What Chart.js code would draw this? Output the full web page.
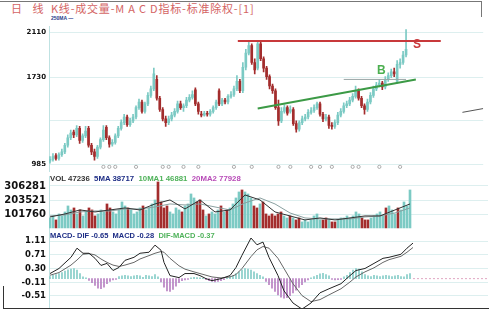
<!DOCTYPE html>
<html><head><meta charset="utf-8">
<script src="https://cdn.jsdelivr.net/npm/chart.js@4"></script>
<style>
body{margin:0;background:#fff;width:490px;height:312px;overflow:hidden;position:relative;font-family:"Liberation Sans",Arial,sans-serif}
.pane{position:absolute;left:0}
.t{position:absolute;white-space:nowrap}
.ln{position:absolute;background:#555}
</style></head><body>

<div class="t" style="left:11px;top:0;font:11px/16px 'Noto Sans CJK SC';letter-spacing:0.8px;color:#d46464">日&nbsp;&nbsp;&nbsp;线&nbsp;&nbsp;K线-成交量-M A C D指标-标准除权-[1]</div>
<div class="ln" style="left:0;top:1px;width:481px;height:1px;background:#777"></div>
<div class="ln" style="left:481px;top:1px;width:1px;height:16px;background:#777"></div>

<div class="pane" style="top:22px"><canvas id="price" width="488" height="154"></canvas></div>
<div class="pane" style="top:176px"><canvas id="vol" width="488" height="56"></canvas></div>
<div class="pane" style="top:232px"><canvas id="macd" width="488" height="76"></canvas></div>

<div class="t" style="left:51px;top:15px;font:bold 5px/6px 'Liberation Sans';color:#2a3a8a">250MA —</div>
<div class="t" style="left:50px;top:174px;font:bold 7.8px/9px 'Liberation Sans'">
  <span style="color:#333">VOL 47236</span>&nbsp;
  <span style="color:#1e2e86">5MA 38717</span>&nbsp;
  <span style="color:#4fb25a">10MA1 46881</span>&nbsp;
  <span style="color:#b84cb8">20MA2 77928</span>
</div>
<div class="t" style="left:50px;top:231px;font:bold 7.5px/9px 'Liberation Sans'">
  <span style="color:#1e2e86">MACD- DIF -0.65</span>&nbsp;
  <span style="color:#1e2e86">MACD -0.28</span>&nbsp;
  <span style="color:#4fb25a">DIF-MACD -0.37</span>
</div>
<div class="t" style="left:377px;top:63px;font:bold 12px/14px 'Liberation Sans';color:#4caf50">B</div>
<div class="t" style="left:413px;top:37px;font:bold 12px/14px 'Liberation Sans';color:#c8393b">S</div>

<div class="ln" style="left:3px;top:308px;width:486px;height:1px;background:#333"></div>
<div class="ln" style="left:3px;top:286px;width:1px;height:22px;background:#333"></div>

<script>
// daily K-line (index = trading day)
const opens = [1014,1030,1062,1038,1070,1094,1150,1214,1262,1238,
  1294,1190,1230,1294,1150,1094,1054,1134,1198,1302,
  1214,1158,1174,1230,1294,1342,1390,1326,1358,1390,
  1470,1518,1438,1502,1574,1630,1710,1550,1454,1374,
  1342,1374,1406,1438,1502,1470,1486,1534,1558,1622,
  1502,1414,1406,1422,1414,1438,1470,1614,1502,1534,
  1518,1566,1582,1630,1694,1614,1814,1934,1998,1854,
  1806,2014,1886,1806,1734,1654,1614,1470,1358,1438,
  1470,1438,1454,1334,1286,1342,1374,1390,1430,1446,
  1470,1502,1414,1374,1390,1318,1310,1342,1406,1438,
  1486,1502,1534,1566,1614,1550,1486,1454,1518,1574,
  1630,1662,1678,1646,1710,1742,1774,1694,1838,1854,
  1918];
const closes = [1030,1054,1038,1070,1094,1150,1214,1254,1238,1294,
  1190,1230,1270,1150,1094,1054,1134,1198,1278,1214,
  1158,1174,1230,1294,1342,1390,1326,1358,1390,1470,
  1518,1438,1502,1574,1630,1758,1550,1454,1374,1342,
  1374,1406,1438,1502,1470,1486,1534,1558,1582,1502,
  1438,1406,1422,1414,1438,1470,1518,1502,1534,1518,
  1566,1582,1630,1694,1614,1814,1934,1998,1854,1790,
  2014,1886,1806,1734,1654,1614,1470,1358,1438,1470,
  1422,1454,1334,1286,1342,1374,1390,1430,1446,1470,
  1502,1414,1374,1390,1318,1310,1342,1406,1438,1486,
  1502,1534,1566,1614,1550,1486,1454,1518,1574,1630,
  1662,1678,1646,1710,1742,1774,1758,1838,1854,1918,
  1966];
const highs = [1054,1078,1078,1086,1118,1166,1238,1278,1278,1318,
  1310,1246,1310,1310,1166,1118,1150,1214,1318,1318,
  1230,1198,1246,1310,1366,1414,1406,1382,1414,1486,
  1542,1534,1518,1598,1654,1806,1742,1566,1470,1398,
  1398,1430,1462,1526,1526,1502,1558,1582,1614,1638,
  1518,1438,1438,1438,1454,1486,1534,1630,1550,1550,
  1582,1606,1654,1742,1710,1854,1966,2030,2014,1886,
  2038,2038,1902,1822,1750,1670,1630,1534,1470,1494,
  1486,1486,1470,1358,1358,1398,1414,1454,1470,1494,
  1518,1518,1430,1414,1406,1342,1366,1430,1462,1510,
  1526,1558,1590,1654,1630,1566,1502,1542,1598,1654,
  1686,1710,1694,1734,1766,1798,1806,1870,1886,1950,
  2134];
const lows = [998,1014,1022,1022,1054,1078,1134,1198,1214,1222,
  1166,1174,1214,1134,1070,1022,1038,1118,1182,1198,
  1134,1142,1158,1214,1278,1326,1310,1310,1342,1374,
  1454,1422,1422,1486,1558,1614,1534,1438,1358,1310,
  1326,1358,1390,1422,1454,1438,1470,1518,1542,1486,
  1414,1390,1398,1398,1398,1422,1454,1486,1486,1502,
  1502,1550,1566,1614,1598,1598,1790,1918,1838,1758,
  1790,1870,1774,1710,1630,1590,1454,1318,1342,1422,
  1406,1422,1318,1262,1270,1326,1358,1374,1414,1430,
  1454,1398,1350,1358,1294,1286,1294,1326,1390,1422,
  1470,1486,1518,1550,1534,1470,1414,1438,1502,1558,
  1614,1646,1622,1630,1694,1726,1734,1678,1806,1838,
  1902];
const volumes = [73000,87600,58400,102200,87600,116800,160600,131400,146000,102200,
  131400,87600,116800,146000,131400,87600,102200,131400,116800,175200,
  146000,116800,102200,131400,189800,160600,146000,131400,102200,116800,
  146000,160600,131400,146000,175200,204400,335800,189800,146000,160600,
  116800,102200,146000,131400,116800,160600,175200,248200,219000,189800,
  204400,131400,87600,102200,116800,102200,131400,160600,116800,131400,
  146000,175200,219000,262800,277400,262800,248200,219000,160600,146000,
  175200,189800,102200,87600,102200,87600,102200,116800,87600,73000,
  87600,73000,58400,73000,43800,58400,43800,58400,87600,102200,
  58400,58400,73000,58400,43800,43800,58400,73000,73000,87600,
  73000,87600,116800,102200,73000,58400,58400,73000,87600,102200,
  116800,87600,146000,160600,131400,102200,146000,131400,189800,160600,
  277400];
// volume averages, sampled every 5 days
const maIdx = [0,5,10,15,20,25,30,35,40,45,50,55,60,65,70,75,80,85,90,95,100,105,110,115,120];
const vol5 = [80300,102200,131400,116800,131400,146000,131400,175200,204400,138700,204400,116800,131400,240900,204400,116800,87600,58400,73000,58400,73000,87600,87600,131400,175200];
const vol10 = [87600,94900,116800,124100,124100,138700,138700,153300,175200,167900,175200,153300,131400,182500,219000,175200,109500,73000,65700,65700,65700,80300,87600,109500,146000];
// MACD
const macdIdx = [0,3,7,9,11,13,15,17,19,21,23,25,28,30,33,35,37,38,40,43,45,48,50,52,54,57,60,62,64,67,69,71,73,76,78,81,84,87,90,93,97,100,102,105,108,111,113,117,119,121];
const dif = [0.15,0.30,0.63,0.90,0.75,0.75,0.60,0.39,0.45,0.24,0.33,0.54,0.63,0.75,0.78,0.99,0.84,0.48,0.09,0.03,0.15,0.15,0.09,0.00,-0.06,0.00,0.09,0.33,0.69,1.20,1.00,1.08,0.63,0.09,-0.36,-0.72,-0.90,-0.72,-0.42,-0.30,-0.15,0.09,0.24,0.30,0.45,0.60,0.63,0.72,0.90,1.05];
const dea = [0.10,0.18,0.40,0.55,0.72,0.74,0.70,0.58,0.48,0.40,0.36,0.40,0.48,0.58,0.68,0.75,0.80,0.78,0.60,0.38,0.28,0.20,0.15,0.10,0.05,0.02,0.05,0.12,0.30,0.65,0.85,0.95,0.90,0.60,0.30,-0.15,-0.50,-0.68,-0.62,-0.48,-0.30,-0.10,0.05,0.20,0.32,0.48,0.56,0.66,0.78,0.92];
const macdBars = [0.06,0.10,0.12,0.15,0.18,0.22,0.26,0.28,0.30,0.25,0.15,0.05,
  0.02,-0.05,-0.12,-0.20,-0.28,-0.30,-0.25,-0.15,-0.08,-0.04,-0.02,
  0.06,0.08,0.10,0.08,0.06,0.08,0.10,0.08,0.04,0.10,0.08,0.06,0.12,0.05,
  -0.10,-0.25,-0.36,-0.38,-0.32,-0.22,-0.12,-0.06,-0.04,-0.02,
  0.02,0.04,0.03,0.02,0.01,-0.03,-0.06,-0.08,-0.10,-0.08,-0.06,-0.03,
  0.02,0.05,0.08,0.15,0.20,0.26,0.30,0.28,0.25,0.20,0.15,0.10,0.05,
  -0.08,-0.18,-0.28,-0.38,-0.48,-0.55,-0.58,-0.56,-0.50,-0.42,-0.34,-0.26,-0.18,-0.10,-0.04,0.02,
  0.06,0.10,0.14,0.16,0.12,0.08,-0.02,-0.04,-0.03,-0.02,
  0.05,0.10,0.18,0.25,0.30,0.28,0.20,0.12,0.08,0.06,0.10,0.08,0.06,0.08,0.10,0.08,0.06,0.08,0.10,0.06,0.05,0.12,0.15];
// hand-drawn lines and signal markers
const resistance = [[63.3,2038],[131.7,2038]];
const trendLine = [[70,1462],[123.3,1710]];
const breakLine = [[99,1710],[120,1710]];
const sideLine = [[139,1430],[146,1462]];
const markerIdx = [18,20,22,29,38,40,45,50,62,68,77,81,88,91,95,102,104,111,118];
const markerLevel = 966;
const priceTicks = [985,1360,1730,2110];
const volTicks = [101760,203521,306281];
const macdTicks = [-0.51,-0.11,0.30,0.71,1.11];

const UP = '#7ccac4', DOWN = '#a32d2d';
const idx = opens.map((_, i) => i);
const candleCol = idx.map(i => closes[i] >= opens[i] ? UP : DOWN);
const pts = a => a.map(p => ({x:p[0], y:p[1]}));

function lineDs(data, color, width, dash){
  return {type:'line', data, borderColor:color, borderWidth:width, borderDash:dash||[], pointRadius:0, fill:false, tension:0, spanGaps:true};
}

function makeChart(id, datasets, ymin, ymax, ticks, size, fmt){
  return new Chart(document.getElementById(id), {
    type:'bar',
    data:{datasets},
    options:{
      responsive:false, animation:false, devicePixelRatio:1,
      layout:{padding:0},
      plugins:{legend:{display:false}, tooltip:{enabled:false}},
      scales:{
        x:{type:'linear', min:-0.33, max:146, display:false, offset:false},
        y:{min:ymin, max:ymax,
          afterFit(s){ s.width = 49; s.paddingTop = 0; s.paddingBottom = 0; },
          afterBuildTicks(s){ s.ticks = ticks.map(v => ({value:v})); },
          grid:{color:'#ddefef', drawTicks:false},
          border:{color:'#bfe2e2'},
          ticks:{color:'#111', padding:3, font:{family:'DejaVu Sans', weight:'bold', size, lineHeight:0.01}, callback:fmt}
        }
      }
    }
  });
}

makeChart('price', [
  lineDs(pts(resistance), '#c8393b', 2),
  lineDs(pts(trendLine), '#3c9a46', 2),
  lineDs(pts(breakLine), '#9aa6a6', 1),
  lineDs(pts(sideLine), '#555', 1),
  {type:'line', showLine:false, data:markerIdx.map(i => ({x:i, y:markerLevel})),
   pointRadius:1.6, pointBorderWidth:0.8, pointBorderColor:'#999', pointBackgroundColor:'#fff'},
  {data:idx.map(i => ({x:i, y:[lows[i], highs[i]]})), backgroundColor:candleCol, barThickness:1, grouped:false},
  {data:idx.map(i => ({x:i, y:[opens[i], closes[i]]})), backgroundColor:candleCol, barThickness:2, grouped:false, minBarLength:1}
], 929, 2158, priceTicks, 7, v => v === 1360 ? '' : String(v));

makeChart('vol', [
  lineDs(maIdx.map((d, k) => ({x:d, y:vol5[k]})), '#333', 1),
  lineDs(maIdx.map((d, k) => ({x:d, y:vol10[k]})), '#8aa0a0', 1),
  {data:idx.map(i => ({x:i, y:volumes[i]})), backgroundColor:candleCol, barThickness:2, grouped:false}
], -29712, 379321, volTicks, 10, v => String(v));

makeChart('macd', [
  lineDs(macdIdx.map((d, k) => ({x:d, y:dif[k]})), '#222', 1),
  lineDs(macdIdx.map((d, k) => ({x:d, y:dea[k]})), '#666', 1),
  lineDs([{x:121, y:0}, {x:146, y:0}], '#e0a6c2', 1, [2, 2]),
  {data:idx.map(i => ({x:i, y:macdBars[i]})), backgroundColor:macdBars.map(v => v >= 0 ? '#86cdc8' : '#b880c2'), barThickness:1, grouped:false}
], -0.868, 1.378, macdTicks, 8.5, v => v.toFixed(2));
</script>
</body></html>
